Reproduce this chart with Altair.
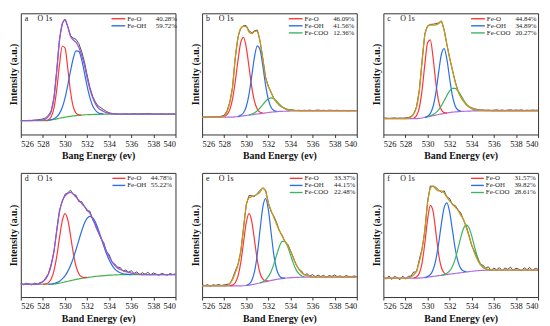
import altair as alt
import pandas as pd

# ---------------- data ----------------
E_START = 526.0          # first energy of every sampled series (eV)
E_STEP = 0.25            # sampling step (eV)
X_TICKS = [526, 528, 530, 532, 534, 536, 538, 540]
Y_TITLE = "Intensity (a.u.)"
SPECIES = ["Fe-O", "Fe-OH", "Fe-COO"]

# intensities in % of the panel height, sampled every 0.25 eV from 526 to 540
A_BG = [11.4]*9 + [11.5, 11.7, 12.0, 12.4, 12.9, 13.4, 13.9, 14.3, 14.7, 15.0, 15.3, 15.6, 15.8,
                   16.0, 16.2, 16.3, 16.4, 16.5, 16.6, 16.6, 16.7, 16.7] + [16.8]*26
A_ENV = [11.4, 11.4, 11.4, 11.5, 11.5, 11.6, 11.7, 11.8] + [12.0, 12.8, 15, 19, 30, 52, 77.5, 91, 94.8,
         89, 81, 78, 76, 72, 65.5, 57.5, 47, 37.5, 30.5, 25.5, 22, 20.3, 19, 18, 17.4, 17.1, 17.0] + [16.8]*22
A_NOISE = [0, 0.1, 0, 0.2, 0.1, 0.3, 0.4, 0.6, 0.8, 1.0, 0.8, 0.5, 0.3, 0.6, 1.0, 0.5, 0.3,
           0.2, 0.5, 1.5, 2.5, 3.0, 3.2, 2.8, 2.2, 1.5, 1.0, 1.2, 1.5, 1.8, 1.5, 1.0, 0.5,
           0.3, 0.1, 0.2, -0.2, 0.1, 0.3, -0.1, 0.2, 0.4, 0.1, 0.3, 0.5, 0.2, 0.6, 0.3, 0.1,
           0.2, 0, 0.3, 0.1, -0.1, 0.2, 0.1, 0]
A_FEO = (528.25, [0.1, 0.5, 2.7, 9.4, 23.9, 44.1, 58.9, 57.1, 40.0, 20.3, 7.5, 2.0, 0.4, 0.1])
A_FEOH = (528.5, [0.1, 0.2, 0.6, 1.6, 4.0, 8.4, 15.7, 25.8, 37.4, 47.6, 53.4, 52.8, 45.9, 35.1, 23.6,
                  14.0, 7.3, 3.4, 1.4, 0.5, 0.2])
A_PCT = ["40.28%", "59.72%"]

B_BG = [14.3]*11 + [14.4, 14.6, 14.8, 15.1, 15.4, 15.7, 16.0, 16.3, 16.6, 16.9, 17.2, 17.5, 17.8, 18.1,
                    18.4, 18.6, 18.8, 19.0, 19.1, 19.2, 19.3, 19.4] + [19.5]*24
B_ENV = [14.3]*7 + [14.6, 15.3, 18.5, 26, 38.4, 63, 80, 87.5, 89.2, 89, 84.5, 83.3, 85, 85.3, 76.5, 62,
                    47, 39.5, 34.5, 29.5, 26.5, 24, 22.5, 21.4, 20.6, 20.2, 19.9, 19.7, 19.6] + [19.5]*21
B_NOISE = [0, 0.2, 0.1, 0.3, 0.2, 0.4, 0.3, 0.5, 0.6, 0.8, 0.5, 0.3, 0.2, 0.3, 0.4, 0.6, 0.8,
           1.0, 0.6, 0.5, 0.9, 0.4, 0.3, 0.2, 0.1, 0.3, 0.2, 0.1, 0.2, 0.1, 0.2, 0.1, 0.2,
           0.3, 0.1, 0.4, 0.2, 0.5, 0.3, 0.6, 0.2, 0.4, 0.7, 0.3, 0.5, 0.2, 0.6, 0.4, 0.3,
           0.5, 0.2, 0.4, 0.3, 0.1, 0.4, 0.2, 0.3]
B_FEO = (528.0, [0.5, 2.0, 6.0, 14.6, 28.9, 46.5, 60.8, 64.7, 56.0, 39.5, 22.6, 10.5, 4.0, 1.2, 0.3])
B_FEOH = (529.25, [0.1, 0.7, 2.5, 7.4, 17.3, 32.3, 47.9, 56.2, 52.5, 38.9, 22.8, 10.7, 3.9, 1.2, 0.3])
B_FECOO = (530.25, [0.2, 0.6, 1.4, 2.7, 4.7, 7.2, 9.6, 11.3, 11.8, 10.8, 8.7, 6.1, 3.8, 2.1, 1.0, 0.4, 0.2])
B_PCT = ["46.09%", "41.56%", "12.36%"]

C_BG = [13.1]*13 + [13.3, 13.6, 14.0, 14.5, 15.0, 15.5, 16.0, 16.5, 17.0, 17.4, 17.8, 18.1, 18.4, 18.6,
                    18.8, 19.0, 19.1, 19.2, 19.3, 19.4] + [19.5]*24
C_ENV = [13.1]*9 + [13.5, 14.5, 17, 22.5, 36, 60, 82, 89, 90.3, 90.2, 90.5, 91.5, 93.4, 86, 74, 63, 53,
                    43.5, 36, 31, 27.5, 24.5, 22.8, 21.6, 20.9, 20.4, 20.1, 19.9, 19.8, 19.7, 19.6] + [19.5]*17
C_NOISE = [0.3, 0.5, 0.2, 0.4, 0.6, 0.3, 0.5, 0.4, 0.6, 0.5, 0.3, 0.2, 0.4, 0.3, 0.5, 0.9, 0.7,
           0.5, 0.8, 1.0, 0.6, 0.4, 0.3, 0.2, 0.1, 0.2, 0.1, 0.3, 0.2, 0.1, 0.3, 0.2, 0.4,
           0.2, 0.3, 0.1, 0.4, 0.2, 0.5, 0.3, 0.6, 0.8, 0.4, 0.7, 0.3, 0.6, 0.9, 0.4, 0.7,
           0.5, 0.8, 0.3, 0.6, 0.4, 0.7, 0.5, 0.6]
C_FEO = (528.75, [0.5, 2.5, 8.7, 22.8, 43.6, 61.2, 63.1, 47.8, 26.6, 10.9, 3.3, 0.7, 0.1])
C_FEOH = (529.75, [0.1, 0.6, 2.4, 7.6, 18.5, 34.6, 49.2, 53.4, 44.2, 27.9, 13.4, 4.9, 1.4, 0.3])
C_FECOO = (530.0, [0.1, 0.4, 0.9, 2.0, 3.9, 6.8, 10.4, 14.4, 17.8, 19.6, 19.4, 17.2, 13.6, 9.6, 6.1,
                   3.5, 1.8, 0.8, 0.3])
C_PCT = ["44.84%", "34.89%", "20.27%"]

D_BG = [10.3]*12 + [10.5, 10.8, 11.2, 11.7, 12.2, 12.7, 13.2, 13.7, 14.2, 14.6, 15.0, 15.4, 15.7, 16.0,
                    16.3, 16.6, 16.8, 17.0, 17.2, 17.4, 17.6, 17.7, 17.8, 17.9] + [18.0]*21
D_ENV = [10.3]*7 + [11.0, 12.5, 14.5, 18.5, 25.5, 37, 53, 68.5, 77.5, 81.5, 83.5, 84.3, 83, 80.5, 78,
                    75.5, 73, 70.3, 67.5, 63, 57.5, 52.5, 48, 42.5, 37, 32.5, 28.5, 25.5, 23.5, 22.2,
                    21.2, 20.4, 19.8, 19.3, 18.9, 18.6, 18.4] + [18.1]*13
D_NOISE = [0.6, -0.4, 0.8, 0.2, -0.5, 0.9, 0.1, 0.7, -0.3, 0.9, 0.4, 1.2, -0.6, 1.0, 1.5, -0.8, 1.3,
           0.5, 1.8, -0.4, 1.6, -1.2, 1.4, 0.3, -1.0, 1.7, -0.6, 1.2, 0.4, -1.1, 1.5, -0.7, 1.8,
           -0.5, 1.2, 0.6, 1.6, -0.3, 1.4, 0.2, 1.9, 0.1, 1.7, -0.4, 1.5, 0.3, 1.8, -0.2, 1.3,
           0.4, -0.6, 1.0, 0.2, -0.5, 0.8, 0.1, 0.5]
D_FEO = (528.0, [0.1, 0.3, 1.3, 4.2, 10.5, 21.7, 36.4, 49.6, 55.0, 49.6, 36.4, 21.7, 10.5, 4.2, 1.3, 0.3, 0.1])
D_FEOH = (528.5, [0.1, 0.2, 0.4, 0.8, 1.6, 2.9, 4.9, 8.0, 12.2, 17.7, 24.1, 31.1, 38.0, 43.8, 47.6, 49.0,
                  47.6, 43.8, 38.0, 31.1, 24.1, 17.7, 12.2, 8.0, 4.9, 2.9, 1.6, 0.8, 0.4, 0.2, 0.1])
D_PCT = ["44.78%", "55.22%"]

E_BG = [9.0]*15 + [9.1, 9.3, 9.6, 10.0, 10.4, 10.9, 11.4, 11.9, 12.4, 12.9, 13.4, 13.8, 14.2, 14.6, 14.9,
                   15.2, 15.4, 15.6, 15.7, 15.8, 15.9] + [16.0]*21
E_ENV = [9.0]*10 + [11, 14, 19.5, 26, 37, 55, 74, 80, 81, 81.8, 82.8, 84.5, 88, 85, 75.5, 69.5, 64, 58.5,
                    53.5, 49, 45, 41.5, 37, 31.5, 26.5, 22.5, 19.8, 18.2, 17.2, 16.6, 16.3] + [16.1]*16
E_NOISE = [0.8, 0.2, 1.0, -0.3, 0.9, 0.4, 1.1, 0.3, 0.8, 1.2, -0.5, 0.8, 1.4, 0.3, -0.6, 0.9, 0.5,
           1.8, 0.6, -0.8, 0.7, 1.6, -0.4, 1.2, 0.3, -0.9, 1.0, 1.4, -0.3, 0.8, -0.6, 1.1, 0.4,
           0.6, -0.3, 0.2, 1.2, -0.4, 1.5, 0.3, 1.8, 0.2, 1.6, 0.4, 1.4, -0.2, 1.3, 0.5, 1.7,
           0.3, 1.0, -0.4, 1.2, 0.6, 0.2, 0.9, 0.4]
E_FEO = (528.5, [0.1, 0.6, 2.5, 7.8, 18.7, 34.9, 50.8, 57.6, 50.8, 34.9, 18.7, 7.8, 2.5, 0.6, 0.1])
E_FEOH = (530.0, [0.2, 0.9, 3.4, 10.2, 23.8, 43.1, 60.8, 66.9, 57.3, 38.2, 19.8, 8.0, 2.5, 0.6, 0.1])
E_FECOO = (531.25, [0.2, 0.5, 1.5, 3.5, 7.2, 12.9, 19.8, 26.2, 29.9, 29.5, 25.1, 18.4, 11.6, 6.3, 3.0, 1.2, 0.4])
E_PCT = ["33.37%", "44.15%", "22.48%"]

F_BG = [15.2]*13 + [15.3, 15.5, 15.7, 16.0, 16.3, 16.6, 16.9, 17.2, 17.5, 17.8, 18.1, 18.4, 18.7, 19.0,
                    19.3, 19.6, 19.9, 20.2, 20.5, 20.8, 21.0, 21.2, 21.4, 21.5, 21.6] + [21.7]*19
F_ENV = [15.2]*10 + [16.3, 18, 21, 28.3, 38.5, 54, 75.4, 87.5, 89.5, 87, 85.5, 85.5, 84, 80.5, 77.5, 75,
                     72.5, 69.8, 66, 62.5, 56, 49, 41.8, 35.5, 30.2, 26.5, 24, 22.8, 22.2, 21.9] + [21.7]*17
F_NOISE = [1.2, -0.8, 1.8, -1.0, 1.5, 0.4, -1.2, 1.6, -0.5, 1.4, 0.6, 2.2, -0.8, 1.8, 0.4, -1.0, 1.5,
           2.0, -0.6, 1.4, 0.8, -1.2, 1.6, 0.2, 1.8, -0.7, 1.3, 0.5, 1.9, -0.4, 1.2, 0.8, -0.6,
           1.5, 2.0, -0.3, 1.8, 0.4, 2.2, -0.5, 1.6, 0.3, 2.0, -0.4, 1.7, 0.6, 2.4, -0.2, 1.5,
           0.8, -0.5, 1.9, 0.3, 2.1, -0.3, 1.4, 0.6]
F_FEO = (528.75, [0.2, 0.9, 3.8, 11.9, 27.5, 46.4, 57.6, 52.5, 35.2, 17.3, 6.3, 1.7, 0.3])
F_FEOH = (529.75, [0.1, 0.5, 1.8, 5.4, 13.1, 25.8, 41.5, 54.3, 57.8, 50.0, 35.2, 20.1, 9.4, 3.5, 1.1, 0.3])
F_FECOO = (531.25, [0.1, 0.3, 1.0, 2.6, 6.0, 11.6, 19.5, 28.3, 35.3, 38.0, 35.3, 28.3, 19.5, 11.6, 6.0,
                    2.6, 1.0, 0.3, 0.1])
F_PCT = ["31.57%", "39.82%", "28.61%"]

# ---------------- styles ----------------
RED, BLUE, GREEN = "#ff3535", "#2b6ee6", "#3cb464"
RAW = "#3a3a3a"
PURPLE_ENV, GREEN_BG = "#9d55d8", "#43b34e"
GOLD_ENV, PURPLE_BG = "#c9961c", "#b46ae2"
COMP_COLORS = [RED, BLUE, GREEN]
SERIF = "Liberation Serif"

PANELS = [
    dict(letter="a", xtitle="Bang Energy (ev)", bg=A_BG, env=A_ENV, noise=A_NOISE,
         comps=[A_FEO, A_FEOH], pct=A_PCT, envc=PURPLE_ENV, bgc=GREEN_BG, leg=(92, 106, 108, 137)),
    dict(letter="b", xtitle="Band Energy (ev)", bg=B_BG, env=B_ENV, noise=B_NOISE,
         comps=[B_FEO, B_FEOH, B_FECOO], pct=B_PCT, envc=GOLD_ENV, bgc=PURPLE_BG, leg=(88, 102, 104, 133)),
    dict(letter="c", xtitle="Band Energy (ev)", bg=C_BG, env=C_ENV, noise=C_NOISE,
         comps=[C_FEO, C_FEOH, C_FECOO], pct=C_PCT, envc=GOLD_ENV, bgc=PURPLE_BG, leg=(89, 103, 105, 134)),
    dict(letter="d", xtitle="Band Energy (ev)", bg=D_BG, env=D_ENV, noise=D_NOISE,
         comps=[D_FEO, D_FEOH], pct=D_PCT, envc=PURPLE_ENV, bgc=GREEN_BG, leg=(93, 106, 108, 132)),
    dict(letter="e", xtitle="Band Energy (ev)", bg=E_BG, env=E_ENV, noise=E_NOISE,
         comps=[E_FEO, E_FEOH, E_FECOO], pct=E_PCT, envc=GOLD_ENV, bgc=PURPLE_BG, leg=(89, 102, 104, 134)),
    dict(letter="f", xtitle="Band Energy (ev)", bg=F_BG, env=F_ENV, noise=F_NOISE,
         comps=[F_FEO, F_FEOH, F_FECOO], pct=F_PCT, envc=GOLD_ENV, bgc=PURPLE_BG, leg=(89, 102, 104, 133)),
]

W = 157


def grid(n):
    return [E_START + E_STEP * i for i in range(n)]


def make_panel(p, height):
    g = grid(len(p["bg"]))
    x = alt.X("E:Q", scale=alt.Scale(domain=[526, 540], nice=False, zero=False),
              axis=alt.Axis(values=X_TICKS, title=p["xtitle"], grid=False, domain=False,
                            format="d"))
    y = alt.Y("v:Q", scale=alt.Scale(domain=[0, 100], nice=False, zero=False),
              axis=alt.Axis(labels=False, ticks=False, domain=False, grid=False, title=Y_TITLE))

    raw_df = pd.DataFrame({"E": g, "v": [a + b for a, b in zip(p["env"], p["noise"])]})
    env_df = pd.DataFrame({"E": g, "v": p["env"]})
    bg_df = pd.DataFrame({"E": g, "v": p["bg"]})

    layers = [
        alt.Chart(raw_df).mark_line(color=RAW, strokeWidth=0.9).encode(x=x, y=y),
        alt.Chart(bg_df).mark_line(color=p["bgc"], strokeWidth=1.2, interpolate="monotone").encode(x=x, y=y),
    ]
    for (start, amps), col in zip(p["comps"], COMP_COLORS):
        xs = [start + E_STEP * k for k in range(len(amps))]
        ys = [p["bg"][round((e - E_START) / E_STEP)] + a for e, a in zip(xs, amps)]
        layers.append(alt.Chart(pd.DataFrame({"E": xs, "v": ys}))
                      .mark_line(color=col, strokeWidth=1.2, interpolate="monotone").encode(x=x, y=y))
    layers.append(alt.Chart(env_df).mark_line(color=p["envc"], strokeWidth=1.3, interpolate="monotone")
                  .encode(x=x, y=y))

    # in-plot legend
    n = len(p["comps"])
    l1, l2, lt, lp = p["leg"]
    leg_df = pd.DataFrame({
        "lx1": [l1]*n, "lx2": [l2]*n, "lt": [lt]*n, "lp": [lp]*n,
        "ly": [5.5 + 7.2 * r for r in range(n)],
        "name": SPECIES[:n], "pct": p["pct"], "col": COMP_COLORS[:n],
    })
    px = lambda f: alt.X(f, scale=None, axis=None)
    py = alt.Y("ly:Q", scale=None, axis=None)
    layers.append(alt.Chart(leg_df).mark_rule(strokeWidth=1.4).encode(
        x=px("lx1:Q"), x2="lx2:Q", y=py, color=alt.Color("col:N", scale=None, legend=None)))
    layers.append(alt.Chart(leg_df).mark_text(align="left", baseline="middle", font=SERIF, fontSize=7,
                                              color="#222").encode(x=px("lt:Q"), y=py, text="name:N"))
    layers.append(alt.Chart(leg_df).mark_text(align="left", baseline="middle", font=SERIF, fontSize=7,
                                              color="#222").encode(x=px("lp:Q"), y=py, text="pct:N"))
    # panel letter and core level
    tag_df = pd.DataFrame({"tx": [4, 17], "ly": [6, 6], "t": [p["letter"], "O 1s"]})
    layers.append(alt.Chart(tag_df).mark_text(align="left", baseline="middle", font=SERIF, fontSize=8,
                                              color="#111").encode(x=px("tx:Q"), y=py, text="t:N"))

    return alt.layer(*layers).properties(width=W, height=height)


row1 = alt.hconcat(*[make_panel(p, 123) for p in PANELS[:3]], spacing=10)
row2 = alt.hconcat(*[make_panel(p, 126) for p in PANELS[3:]], spacing=10)

chart = alt.vconcat(row1, row2, spacing=11).properties(
    padding={"left": 0, "top": 2, "right": 0, "bottom": 0}
).configure_view(stroke="#333", strokeWidth=1).configure_axis(
    labelFont=SERIF, titleFont=SERIF, labelFontSize=8.5, titleFontSize=10, titleFontWeight="bold",
    labelColor="#111", titleColor="#111", tickColor="#333", tickSize=3, labelPadding=2,
    titlePadding=2
).configure_axisX(titlePadding=3)

chart.save("out.html", embed_options={"renderer": "svg", "actions": False})
